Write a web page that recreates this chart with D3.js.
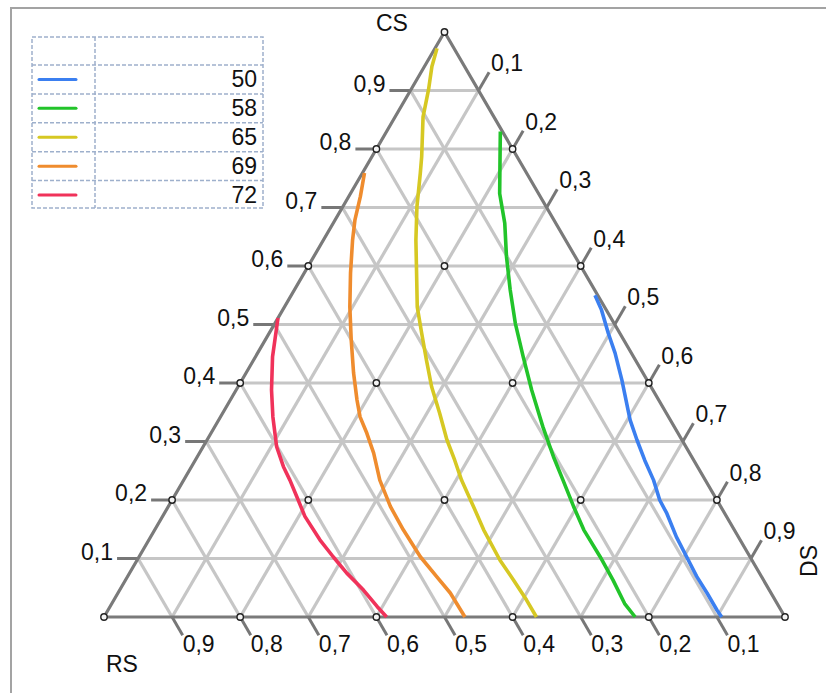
<!DOCTYPE html>
<html>
<head>
<meta charset="utf-8">
<script src="https://cdn.jsdelivr.net/npm/d3@7"></script>
<style>
  html, body { margin: 0; padding: 0; background: #fff; }
  svg { display: block; }
  text { font-family: "Liberation Sans", Arial, sans-serif; fill: #111; }
</style>
</head>
<body>
<svg id="chart" width="826" height="693"></svg>
<script>
// ---- data (ternary coordinates: [CS, DS], RS = 1 - CS - DS) ----
const seriesNames = ["50", "58", "65", "69", "72"];
const s50 = [[0.550,0.446],[0.525,0.468],[0.485,0.498],[0.451,0.525],[0.405,0.558],[0.337,0.604],[0.303,0.631],[0.268,0.660],[0.234,0.690],[0.200,0.716],[0.177,0.738],[0.137,0.772],[0.103,0.804],[0.069,0.836],[0.041,0.865],[0.012,0.894],[0.000,0.907]];
const s58 = [[0.830,0.167],[0.781,0.191],[0.724,0.219],[0.673,0.252],[0.616,0.283],[0.559,0.317],[0.502,0.353],[0.445,0.393],[0.388,0.434],[0.325,0.482],[0.274,0.523],[0.234,0.557],[0.189,0.595],[0.149,0.630],[0.103,0.677],[0.063,0.716],[0.023,0.753],[0.000,0.780]];
const s65 = [[0.972,0.003],[0.941,0.011],[0.901,0.026],[0.855,0.041],[0.787,0.073],[0.759,0.085],[0.701,0.109],[0.644,0.136],[0.588,0.165],[0.530,0.195],[0.485,0.224],[0.439,0.254],[0.394,0.284],[0.348,0.319],[0.303,0.352],[0.268,0.381],[0.234,0.408],[0.189,0.448],[0.149,0.483],[0.097,0.533],[0.063,0.570],[0.029,0.606],[0.000,0.635]];
const s69 = [[0.759,0.003],[0.719,0.017],[0.679,0.029],[0.644,0.043],[0.588,0.068],[0.530,0.096],[0.474,0.126],[0.417,0.158],[0.371,0.186],[0.342,0.205],[0.314,0.229],[0.280,0.256],[0.234,0.288],[0.189,0.326],[0.149,0.365],[0.103,0.413],[0.069,0.454],[0.041,0.488],[0.000,0.530]];
const s72 = [[0.511,0.000],[0.474,0.014],[0.445,0.025],[0.388,0.052],[0.342,0.077],[0.291,0.108],[0.257,0.135],[0.234,0.156],[0.206,0.180],[0.172,0.209],[0.132,0.251],[0.103,0.285],[0.075,0.319],[0.046,0.358],[0.018,0.392],[0.000,0.415]];
const tickValues = [0.1,0.2,0.3,0.4,0.5,0.6,0.7,0.8,0.9];
const tickLabels = ["0,1","0,2","0,3","0,4","0,5","0,6","0,7","0,8","0,9"];
const circleSteps = [0, 0.2, 0.4, 0.6, 0.8, 1];
const axisTitles = ["CS", "RS", "DS"];

// ---- styles ----
const seriesColors = ["#3b7ff0", "#22c42a", "#d6c823", "#ef8c2e", "#f0325a"];
const allSeries = [s50, s58, s65, s69, s72];
const FS = 23;

const svg = d3.select("#chart");

// frame
svg.append("path").attr("d", "M11,693 L11,8 L826,8")
  .attr("fill", "none").attr("stroke", "#a3a3a3").attr("stroke-width", 2);

// scales: x along base (in DS units, shifted by CS/2), y by CS
const xS = d3.scaleLinear().domain([0, 1]).range([104, 785]);
const yS = d3.scaleLinear().domain([0, 1]).range([617, 32]);
const P = (cs, ds) => [xS(ds + cs / 2), yS(cs)];

const g = svg.append("g");
const line = d3.line();

// grid lines
const grid = [];
tickValues.forEach(k => {
  grid.push([P(k, 0), P(k, 1 - k)]);       // CS const
  grid.push([P(0, k), P(1 - k, k)]);       // DS const
  grid.push([P(0, 1 - k), P(1 - k, 0)]);   // RS const
});
g.selectAll(".grid").data(grid).enter().append("path")
  .attr("d", d => line(d)).attr("stroke", "#c6c6c6").attr("stroke-width", 3.2)
  .attr("fill", "none");

// ticks
const TL = 21;
const unit = (a, b) => { const dx = b[0]-a[0], dy = b[1]-a[1], L = Math.hypot(dx, dy); return [dx/L, dy/L]; };
const dirDS = unit(P(0, 0.5), P(0.5, 0.5));
const dirRS = unit(P(0.5, 0), P(0, 0.5));
const tickG = g.append("g");
tickValues.forEach((k, i) => {
  // left: CS
  const a = P(k, 0);
  const ae = [a[0] - TL, a[1]];
  tickG.append("path").attr("d", line([a, ae])).attr("stroke", "#777").attr("stroke-width", 3);
  g.append("text").attr("x", ae[0] - 4).attr("y", ae[1] + 1).attr("text-anchor", "end")
    .attr("font-size", FS).text(tickLabels[i]);
  // right: DS
  const b = P(1 - k, k);
  const be = [b[0] + dirDS[0] * TL, b[1] + dirDS[1] * TL];
  tickG.append("path").attr("d", line([b, be])).attr("stroke", "#777").attr("stroke-width", 3);
  g.append("text").attr("x", be[0] + 2).attr("y", be[1] - 1)
    .attr("font-size", FS).text(tickLabels[i]);
  // bottom: RS
  const c = P(0, 1 - k);
  const ce = [c[0] + dirRS[0] * TL, c[1] + dirRS[1] * TL];
  tickG.append("path").attr("d", line([c, ce])).attr("stroke", "#777").attr("stroke-width", 3);
  g.append("text").attr("x", ce[0]).attr("y", ce[1] + 17)
    .attr("font-size", FS).text(tickLabels[i]);
});

// triangle edges
g.append("path").attr("d", line([P(0, 0), P(0, 1), P(1, 0)]) + "Z")
  .attr("fill", "none").attr("stroke", "#7a7a7a").attr("stroke-width", 3.2)
  .attr("stroke-linejoin", "round");

// series curves
allSeries.forEach((s, i) => {
  g.append("path").attr("d", line(s.map(p => P(p[0], p[1]))))
    .attr("fill", "none").attr("stroke", seriesColors[i]).attr("stroke-width", 3.6)
    .attr("stroke-linejoin", "round").attr("stroke-linecap", "butt");
});

// circles at 0.2-grid points
const pts = [];
circleSteps.forEach(cs => circleSteps.forEach(ds => {
  if (cs + ds <= 1.0001) pts.push(P(cs, ds));
}));
g.selectAll(".pt").data(pts).enter().append("circle")
  .attr("cx", d => d[0]).attr("cy", d => d[1]).attr("r", 3.2)
  .attr("fill", "#f4f4f4").attr("stroke", "#222").attr("stroke-width", 1.4);

// axis titles
svg.append("text").attr("x", 376).attr("y", 31).attr("font-size", FS).text(axisTitles[0]);
svg.append("text").attr("x", 106).attr("y", 672).attr("font-size", FS).text(axisTitles[1]);
svg.append("text").attr("transform", "translate(817,561) rotate(-90)")
  .attr("text-anchor", "middle").attr("font-size", FS).text(axisTitles[2]);

// legend
const lg = svg.append("g");
const lx0 = 32, lx1 = 263, ly0 = 37, ly1 = 208, colX = 95, headH = 28;
const rowY = d3.scaleLinear().domain([0, seriesNames.length]).range([ly0 + headH, ly1 + 1.5]);
const dashStyle = sel => sel.attr("fill", "none").attr("stroke", "#9eb0cc")
  .attr("stroke-width", 1.5).attr("stroke-dasharray", "4,2");
lg.append("rect").attr("x", lx0).attr("y", ly0).attr("width", lx1 - lx0).attr("height", ly1 - ly0)
  .call(dashStyle);
lg.append("path").attr("d", line([[colX, ly0], [colX, ly1]])).call(dashStyle);
seriesNames.forEach((n, i) => {
  const y0 = rowY(i), y1 = rowY(i + 1), yc = (y0 + y1) / 2;
  lg.append("path").attr("d", line([[lx0, y0], [lx1, y0]])).call(dashStyle);
  lg.append("path").attr("d", line([[39, yc], [76, yc]]))
    .attr("stroke", seriesColors[i]).attr("stroke-width", 3).attr("stroke-linecap", "round");
  lg.append("text").attr("x", 257).attr("y", yc + 8).attr("text-anchor", "end")
    .attr("font-size", FS).text(n);
});
</script>
</body>
</html>
